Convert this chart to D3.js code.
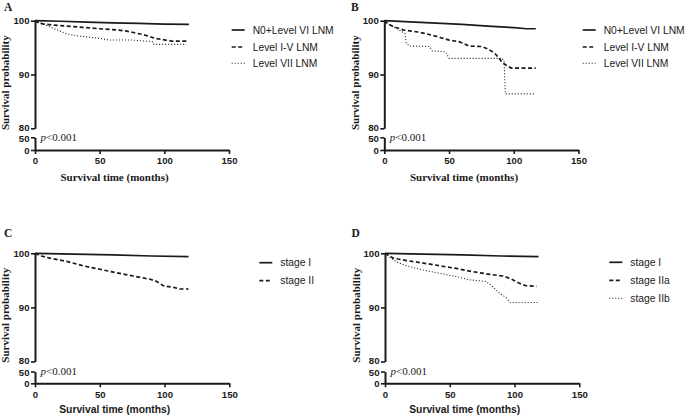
<!DOCTYPE html>
<html><head><meta charset="utf-8">
<script src="https://cdn.jsdelivr.net/npm/d3@7"></script>
<style>body{margin:0;background:#fff}svg{display:block}</style>
</head><body><svg id="c" width="685" height="416"></svg>
<script>
// ---------- data ----------
const xTicks = [0, 50, 100, 150];
const yTicksUpper = [80, 90, 100];
const yTicksLower = [0, 50];
const panelLabels = ["A", "B", "C", "D"];
const legendAB = ["N0+Level VI LNM", "Level I-V LNM", "Level VII LNM"];
const legendC = ["stage I", "stage II"];
const legendD = ["stage I", "stage IIa", "stage IIb"];
const pText = "<0.001";

// Panel A (time in months, survival %)
const aSolid = [[0,100],[20,99.9],[40,99.75],[60,99.6],[80,99.5],[100,99.35],[119,99.3]];
const aDashed = [[0,100],[3,99.6],[6,99.4],[14,99.2],[24,99.0],[37,98.75],[50,98.5],[63,98.3],[70,98.1],[76,97.8],[83,97.45],[88,97.1],[93,96.7],[101,96.4],[106,96.2],[117,96.2]];
const aDotted = [[0,100],[5,99.5],[10,99.0],[14,98.6],[19,98.1],[24,97.6],[32,97.2],[40,97.0],[50,96.7],[58,96.4],[75,96.4],[91,96.1],[92,95.6],[117,95.6]];
// Panel B
const bSolid = [[0,100],[20,99.8],[40,99.55],[60,99.3],[80,99.0],[100,98.7],[110,98.5],[117,98.5]];
const bDashed = [[0,100],[3,99.4],[7,98.9],[14.5,98.3],[24.6,97.95],[32,97.6],[40,97.1],[50,96.4],[57.6,96.1],[62,95.7],[65,95.3],[75,95.2],[80.5,94.7],[85.5,93.9],[88,93.2],[90.6,92.4],[93,91.9],[98,91.2],[117,91.2]];
const bDotted = [[0,100],[4.3,99.2],[10.7,98.4],[16,97.6],[17,95.8],[19.5,95.3],[35,95.2],[37,94.4],[47.5,94.2],[50,93.0],[90.6,93.0],[92.5,92.6],[93.5,86.4],[117,86.4]];
// Panel C
const cSolid = [[0,100],[30,99.85],[60,99.7],[90,99.5],[118.5,99.4]];
const cDashed = [[0,100],[5,99.5],[11.6,99.1],[24.5,98.5],[37,97.7],[50,97.05],[63,96.4],[76,95.8],[89,95.2],[94,94.8],[99,94.0],[107,93.7],[112,93.4],[118.5,93.4]];
// Panel D
const dSolid = [[0,100],[30,99.85],[60,99.7],[90,99.5],[118.5,99.4]];
const dDashed = [[0,100],[6.4,99.1],[16.7,98.65],[29.5,98.2],[42,97.7],[55,97.2],[68,96.6],[81,96.1],[91,95.8],[96,95.4],[101,94.8],[105,94.3],[109,94.0],[117,93.9]];
const dDotted = [[0,100],[3,99.4],[6.4,98.8],[11,98.2],[16.7,97.7],[23,97.3],[29.5,96.9],[42,96.3],[55,95.7],[65,95.1],[78,94.8],[83,93.9],[88,92.7],[93.6,91.8],[96.6,90.9],[118.5,90.9]];

// ---------- layout ----------
const styles = [
  {dash: null, width: 1.7},
  {dash: "4,2.5", width: 1.7},
  {dash: "1,2", width: 1.1}
];
const panels = [
  {label: panelLabels[0], lx: 4, ly: 10.7, x0: 35, x150: 229, y100: 20.7, y80: 128.3, y50: 137.3, y0: 150,
   series: [aSolid, aDashed, aDotted], legend: legendAB, legX: 231.7, legRows: [30, 47, 63.3], xlabSerif: true, ylabX: 9},
  {label: panelLabels[1], lx: 351, ly: 10.5, x0: 384.3, x150: 578.5, y100: 20.7, y80: 128.3, y50: 137.3, y0: 150,
   series: [bSolid, bDashed, bDotted], legend: legendAB, legX: 582.7, legRows: [30, 47, 63.3], xlabSerif: true, ylabX: 358.5},
  {label: panelLabels[2], lx: 4, ly: 236.7, x0: 35, x150: 229.3, y100: 253.3, y80: 361.5, y50: 371.5, y0: 383.3,
   series: [cSolid, cDashed], legend: legendC, legX: 259.3, legRows: [262.7, 280.7], xlabSerif: false, ylabX: 9},
  {label: panelLabels[3], lx: 351.5, ly: 236.7, x0: 385, x150: 579.3, y100: 253.3, y80: 361.5, y50: 371.5, y0: 383.3,
   series: [dSolid, dDashed, dDotted], legend: legendD, legX: 609.3, legRows: [262.3, 280.3, 298.3], xlabSerif: false, ylabX: 359.5}
];

const svg = d3.select("#c");
const ink = "#1a1a1a";
const serif = "'Liberation Serif', 'Times New Roman', serif";
const sans = "'Liberation Sans', Arial, sans-serif";

panels.forEach(p => {
  const g = svg.append("g");
  const x = d3.scaleLinear().domain([0, 150]).range([p.x0, p.x150]);
  const y = d3.scaleLinear().domain([0, 50, 80, 100]).range([p.y0, p.y50, p.y80, p.y100]);
  const yUp = d3.scaleLinear().domain([80, 100]).range([p.y80, p.y100]);
  const yLo = d3.scaleLinear().domain([0, 50]).range([p.y0, p.y50]);

  // panel letter
  g.append("text").attr("x", p.lx).attr("y", p.ly).text(p.label)
    .attr("font-family", serif).attr("font-weight", "bold").attr("font-size", 11.5).attr("fill", ink);

  // axes
  const styleAxis = sel => {
    sel.attr("font-size", null);
    sel.select(".domain").attr("stroke", ink).attr("stroke-width", 2);
    sel.selectAll(".tick line").attr("stroke", ink).attr("stroke-width", 1.6);
    sel.selectAll(".tick text").attr("fill", ink).attr("font-family", sans)
      .attr("font-weight", "bold").attr("font-size", 9.6);
  };
  const xa = g.append("g").attr("transform", `translate(0,${p.y0})`)
    .call(d3.axisBottom(x).tickValues(xTicks).tickSize(4).tickSizeOuter(0).tickPadding(3.5));
  styleAxis(xa);
  const ya = g.append("g").attr("transform", `translate(${p.x0},0)`)
    .call(d3.axisLeft(yUp).tickValues(yTicksUpper).tickSize(4).tickSizeOuter(0).tickPadding(1.5));
  styleAxis(ya);
  ya.selectAll(".tick text").filter(d => d === 80).attr("dy", "0.2em");
  const yb = g.append("g").attr("transform", `translate(${p.x0},0)`)
    .call(d3.axisLeft(yLo).tickValues(yTicksLower).tickSize(4).tickSizeOuter(0).tickPadding(1.5));
  styleAxis(yb);
  yb.selectAll(".tick text").filter(d => d === 50).attr("dy", "0.42em");

  // x label
  g.append("text").attr("x", (p.x0 + x(120)) / 2 + 2).attr("y", p.y0 + (p.xlabSerif ? 30.5 : 30))
    .attr("text-anchor", "middle").text("Survival time (months)")
    .attr("font-family", p.xlabSerif ? serif : sans).attr("font-weight", "bold")
    .attr("font-size", p.xlabSerif ? 11 : 10.3).attr("fill", ink);

  // y label
  g.append("text").attr("transform", `translate(${p.ylabX},${p.y100 + 62}) rotate(-90)`)
    .attr("text-anchor", "middle").text("Survival probability")
    .attr("font-family", serif).attr("font-weight", "bold").attr("font-size", 11).attr("fill", ink);

  // p value
  const pt = g.append("text").attr("x", p.x0 + 5.5).attr("y", p.y50 + 3.8)
    .attr("font-family", serif).attr("font-size", 11).attr("fill", ink);
  pt.append("tspan").attr("font-style", "italic").text("p");
  pt.append("tspan").text(pText);

  // curves
  const line = d3.line().x(d => x(d[0])).y(d => y(d[1])).curve(d3.curveLinear);
  p.series.forEach((s, i) => {
    const st = styles[i];
    g.append("path").datum(s).attr("d", line).attr("fill", "none")
      .attr("stroke", ink).attr("stroke-width", st.width)
      .attr("stroke-dasharray", st.dash);
  });

  // legend
  p.legend.forEach((t, i) => {
    const st = styles[i];
    const ry = p.legRows[i];
    g.append("line").attr("x1", p.legX).attr("x2", p.legX + 13).attr("y1", ry).attr("y2", ry)
      .attr("stroke", ink).attr("stroke-width", st.width).attr("stroke-dasharray", st.dash);
    g.append("text").attr("x", p.legX + 21).attr("y", ry + 3.7).text(t)
      .attr("font-family", sans).attr("font-size", 10.3).attr("fill", ink);
  });
});
</script>
</body></html>
